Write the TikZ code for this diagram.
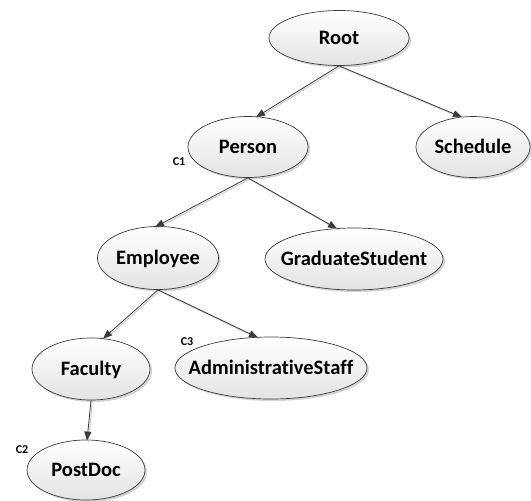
\documentclass[tikz,border=0pt]{standalone}
\usepackage{fontspec}
\setmainfont{Carlito}[Ligatures={NoCommon}]
\usetikzlibrary{shapes.geometric,shadows,arrows.meta}
\definecolor{linecol}{HTML}{3C3C3C}
\begin{document}
\begin{tikzpicture}[x=1pt,y=-1pt,
  cls/.style={ellipse, draw=linecol, line width=0.7pt, inner sep=0pt,
    top color=white, bottom color=gray!22,
    drop shadow={shadow xshift=2pt, shadow yshift=-2pt, opacity=0.35, fill=gray},
    font=\fontsize{20.5}{24}\selectfont\bfseries, text height=13.2pt, text depth=0pt},
  tag/.style={font=\fontsize{12}{14}\selectfont\bfseries, inner sep=0pt},
  edge/.style={draw=linecol, line width=0.8pt, -{Triangle[length=9pt,width=7pt]},
    preaction={draw=gray!40, line width=1pt, -, transform canvas={xshift=1.3pt, yshift=-1.3pt}}}]
\useasboundingbox (0,0) rectangle (531,501);

\node[cls, minimum width=140pt, minimum height=55pt] (root) at (339,38) {\makebox[0pt]{Root}};
\node[cls, minimum width=120pt, minimum height=61pt] (person) at (248,147) {\makebox[0pt]{Person}};
\node[cls, minimum width=114pt, minimum height=61pt] (schedule) at (473,147) {\makebox[0pt]{Schedule}};
\node[cls, minimum width=121pt, minimum height=63pt] (employee) at (158,258) {\makebox[0pt]{Employee}};
\node[cls, minimum width=178pt, minimum height=62pt] (grad) at (354,259) {\makebox[0pt]{GraduateStudent}};
\node[cls, minimum width=118pt, minimum height=62pt] (faculty) at (91,369) {\makebox[0pt]{Faculty}};
\node[cls, minimum width=192pt, minimum height=62pt] (admin) at (271,368) {\makebox[0pt]{AdministrativeStaff}};
\node[cls, minimum width=118pt, minimum height=60pt] (postdoc) at (86,470) {\makebox[0pt]{PostDoc}};

\node[tag] (c1) at (179,162) {C1};
\node[tag] (c2) at (22,450) {C2};
\node[tag] (c3) at (187,342) {C3};

\draw[edge] (root.south) -- ([xshift=8pt,yshift=-1pt]person.north);
\draw[edge] (root.south) -- ([xshift=-11pt,yshift=-1pt]schedule.north);
\draw[edge] (person.south) -- ([xshift=-3pt,yshift=-1pt]employee.north);
\draw[edge] (person.south) -- ([xshift=-17pt,yshift=-1pt]grad.north);
\draw[edge] (employee.south) -- ([xshift=12pt,yshift=-1pt]faculty.north);
\draw[edge] (employee.south) -- ([xshift=-13pt,yshift=-1pt]admin.north);
\draw[edge] (faculty.south) -- ([xshift=1pt,yshift=-1pt]postdoc.north);
\end{tikzpicture}
\end{document}
